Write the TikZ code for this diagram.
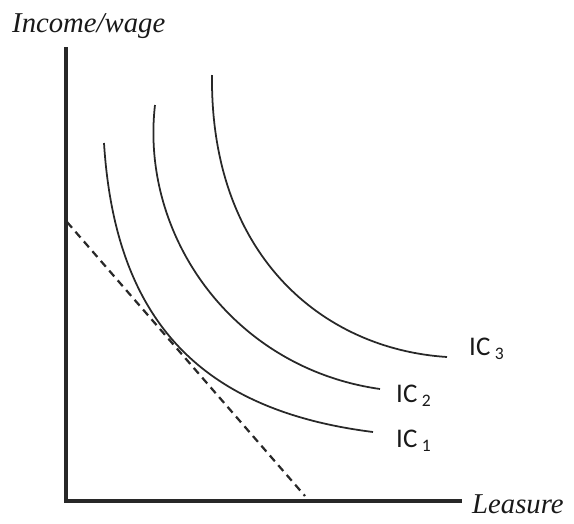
\documentclass[tikz,border=0pt]{standalone}
\usepackage{fontspec}
\setmainfont{Liberation Serif}
\newfontfamily\icfont{Carlito}
\definecolor{inkline}{RGB}{40,40,40}
\definecolor{inktext}{RGB}{25,25,25}

\begin{document}
\begin{tikzpicture}[x=0.03cm, y=-0.03cm]
  \tikzset{
    axisline/.style={line width=3.4pt, inkline},
    icurve/.style={line width=1.5pt, inkline},
    budget/.style={line width=1.9pt, inkline, dash pattern=on 6.5pt off 4.5pt},
    axislabel/.style={inktext, font=\fontsize{24.5}{26}\selectfont\itshape, inner sep=0pt},
    iclabel/.style={inktext, font=\icfont\fontsize{23}{25}\selectfont, inner sep=0pt, anchor=west}
  }
  \useasboundingbox (0,0) rectangle (574,524);

  % axes
  \coordinate (origin) at (66,501);
  \coordinate (ytop) at (66,47);
  \coordinate (xend) at (462,501);
  \draw[axisline] (ytop) -- (origin) -- (xend);
  \node[axislabel, anchor=base west] (ylab) at (12,32) {Income/wage};
  \node[axislabel, anchor=base west] (xlab) at (472,513) {Leasure};

  % budget line
  \coordinate (bltop) at (67,222);
  \coordinate (blbot) at (305,496);
  \draw[budget] (bltop) -- (blbot);

  % indifference curves
  \draw[icurve] (104,143) .. controls (115,318) and (198,410) .. (373,432);
  \draw[icurve] (155,105) .. controls (140,235) and (232,368) .. (380,389);
  \draw[icurve] (212,75) .. controls (210,255) and (322,349) .. (447,357);

  \node[iclabel] (ic1) at (396,441) {IC\,\raisebox{-0.3ex}{\fontsize{15}{15}\selectfont 1}};
  \node[iclabel] (ic2) at (396,396) {IC\,\raisebox{-0.3ex}{\fontsize{15}{15}\selectfont 2}};
  \node[iclabel] (ic3) at (469,349) {IC\,\raisebox{-0.3ex}{\fontsize{15}{15}\selectfont 3}};

\end{tikzpicture}
\end{document}
